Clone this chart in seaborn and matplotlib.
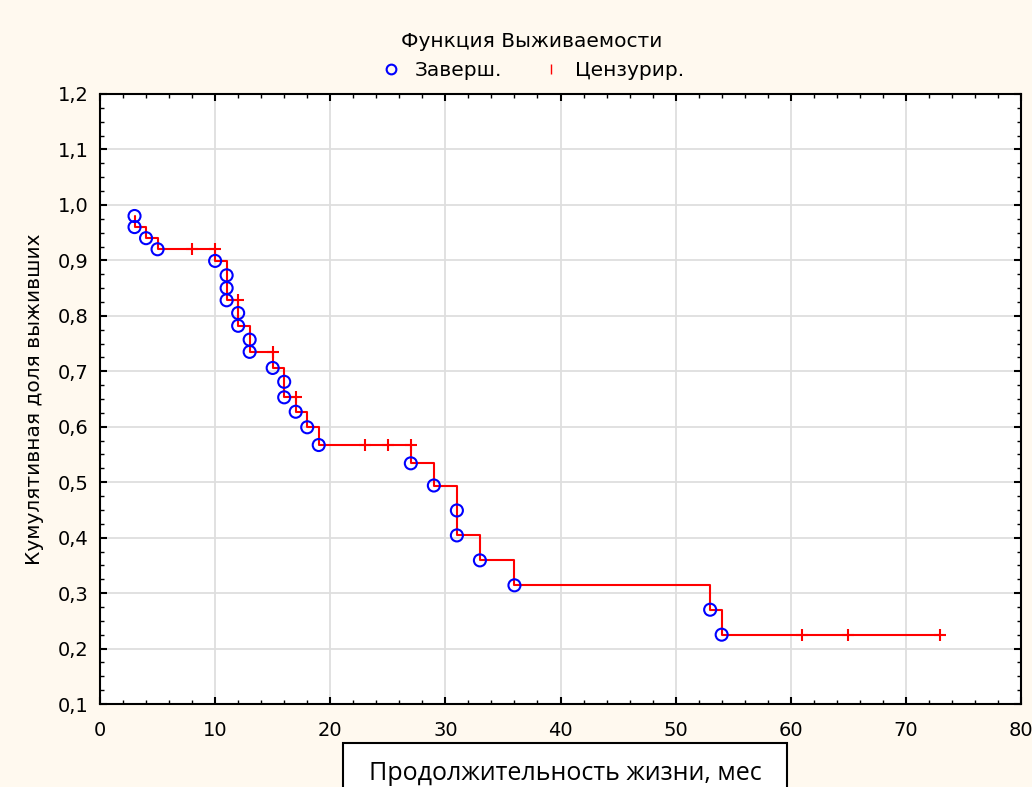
import matplotlib
matplotlib.use("Agg")
import matplotlib.pyplot as plt
from matplotlib.lines import Line2D
from matplotlib.patches import Rectangle
from matplotlib.ticker import FuncFormatter, MultipleLocator
import pandas as pd
import seaborn as sns

# Kaplan-Meier estimate: completed (event) observations
event_times = [3, 3, 4, 5, 10, 11, 11, 11, 12, 12, 13, 13, 15, 16, 16, 17, 18, 19,
               27, 29, 31, 31, 33, 36, 53, 54]
event_surv = [0.980, 0.960, 0.940, 0.920, 0.899, 0.873, 0.850, 0.828, 0.805, 0.782,
              0.757, 0.735, 0.706, 0.681, 0.653, 0.627, 0.599, 0.567, 0.534, 0.494,
              0.449, 0.404, 0.359, 0.314, 0.270, 0.225]

# censored observations
censor_times = [8, 10, 12, 15, 17, 23, 25, 27, 61, 65, 73]
censor_surv = [0.920, 0.920, 0.828, 0.735, 0.653, 0.567, 0.567, 0.567, 0.225, 0.225, 0.225]

legend_title = "Функция Выживаемости"
legend_labels = ["Заверш.", "Цензурир."]
x_label = "Продолжительность жизни, мес"
y_label = "Кумулятивная доля выживших"

sns.set_style("white")
plt.rcParams["font.family"] = ["DejaVu Sans"]
plt.rcParams["text.color"] = "black"
plt.rcParams["axes.labelcolor"] = "black"
plt.rcParams["xtick.color"] = "black"
plt.rcParams["ytick.color"] = "black"

bg = "#FFF9EF"
fig = plt.figure(figsize=(10.32, 7.87), dpi=100, facecolor=bg)
ax = fig.add_axes([100 / 1032, 1 - 704 / 787, 921 / 1032, 610 / 787])
ax.set_facecolor("white")

# step curve runs from the first event to the last follow-up time
step_df = pd.DataFrame({
    "t": event_times + [max(censor_times)],
    "s": event_surv + [event_surv[-1]],
})
sns.lineplot(data=step_df, x="t", y="s", sort=False, estimator=None,
             drawstyle="steps-post", color="#FF0000", linewidth=1.5, ax=ax, zorder=3)

cens_df = pd.DataFrame({"t": censor_times, "s": censor_surv})
sns.scatterplot(data=cens_df, x="t", y="s", marker="+", s=80, color="#FF0000",
                linewidth=1.5, ax=ax, zorder=4)

ev_df = pd.DataFrame({"t": event_times, "s": event_surv})
sns.scatterplot(data=ev_df, x="t", y="s", marker="o", s=75, facecolor="none",
                edgecolor="#0000FF", linewidth=1.5, ax=ax, zorder=5)

ax.set_xlim(0, 80)
ax.set_ylim(0.1, 1.2)
ax.xaxis.set_major_locator(MultipleLocator(10))
ax.xaxis.set_minor_locator(MultipleLocator(2))
ax.yaxis.set_major_locator(MultipleLocator(0.1))
ax.yaxis.set_minor_locator(MultipleLocator(0.025))
ax.yaxis.set_major_formatter(FuncFormatter(lambda v, _: f"{v:.1f}".replace(".", ",")))
ax.xaxis.set_major_formatter(FuncFormatter(lambda v, _: f"{v:.0f}"))

ax.grid(True, which="major", color="#DEDEDE", linewidth=1.3)
ax.set_axisbelow(True)
for sp in ax.spines.values():
    sp.set_visible(True)
    sp.set_color("black")
    sp.set_linewidth(1.5)

ax.tick_params(which="both", direction="in", top=True, right=True, bottom=True, left=True,
               colors="black", labelcolor="black", labelsize=14)
ax.tick_params(which="major", length=5, width=1.5)
ax.tick_params(which="minor", length=3, width=1.0)
ax.tick_params(axis="x", which="major", pad=12)
ax.tick_params(axis="y", which="major", pad=8)

ax.set_xlabel("")
ax.set_ylabel(y_label, fontsize=14.5, labelpad=10, color="black")

handles = [
    Line2D([], [], linestyle="none", marker="o", markersize=7, markerfacecolor="none",
           markeredgecolor="#0000FF", markeredgewidth=1.5),
    Line2D([], [], linestyle="none", marker="|", markersize=7, color="#FF0000",
           markeredgewidth=1.0),
]
leg = fig.legend(handles, legend_labels, title=legend_title, loc="upper center",
                 bbox_to_anchor=(0.515, 0.965), ncol=2, frameon=False, fontsize=14.5,
                 title_fontsize=14.5, handletextpad=0.6, columnspacing=1.8,
                 handlelength=1.2, borderaxespad=0.0, borderpad=0.2)
leg.get_title().set_color("black")
for txt in leg.get_texts():
    txt.set_color("black")

# boxed axis title below the plot
fig.patches.append(Rectangle((343 / 1032, -0.05), 444 / 1032, 0.05 + 44 / 787,
                             transform=fig.transFigure, facecolor="white",
                             edgecolor="black", linewidth=1.5, zorder=10))
fig.text(565 / 1032, 1 - 773 / 787, x_label, ha="center", va="center", color="black",
         fontsize=18, family=["Open Sans", "DejaVu Sans"], zorder=11)

fig.savefig("out.png", dpi=100, facecolor=bg)
